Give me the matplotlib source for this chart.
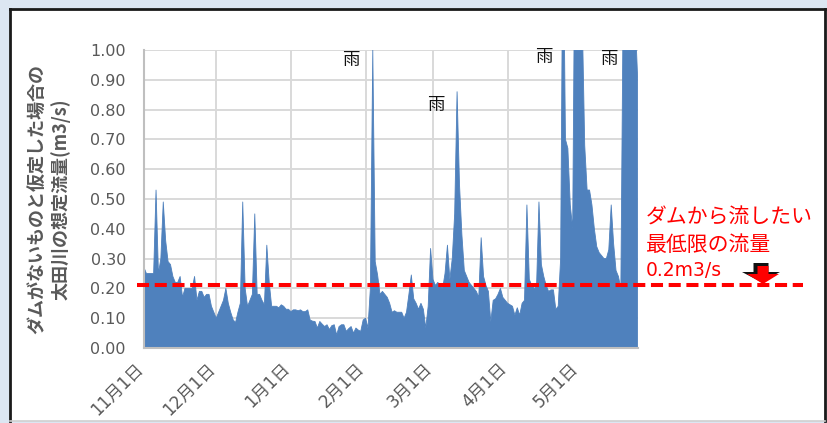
import matplotlib
matplotlib.use("Agg")
import matplotlib.pyplot as plt
import matplotlib.transforms as mtransforms
from matplotlib.patches import Rectangle, Polygon
from matplotlib.lines import Line2D
import pandas as pd

plt.rcParams['font.family'] = ['DejaVu Sans', 'Noto Sans CJK JP']

# ---------------- data (daily assumed flow, m3/s) ----------------
start_date = '2018-11-01'
nov = [0.27, 0.25, 0.25, 0.25, 0.25, 0.53, 0.25, 0.30, 0.49, 0.36,
       0.29, 0.28, 0.24, 0.22, 0.22, 0.24, 0.17, 0.20, 0.20, 0.20,
       0.20, 0.24, 0.16, 0.19, 0.19, 0.17, 0.18, 0.18, 0.14, 0.12]
dec = [0.10, 0.12, 0.14, 0.16, 0.20, 0.15, 0.12, 0.095, 0.085, 0.12,
       0.15, 0.49, 0.20, 0.14, 0.16, 0.18, 0.45, 0.18, 0.18, 0.16,
       0.145, 0.345, 0.22, 0.14, 0.14, 0.14, 0.135, 0.145, 0.14, 0.13,
       0.13]
jan = [0.122, 0.128, 0.128, 0.125, 0.128, 0.122, 0.122, 0.128, 0.094, 0.09,
       0.089, 0.067, 0.089, 0.08, 0.072, 0.078, 0.062, 0.075, 0.078, 0.044,
       0.072, 0.078, 0.078, 0.056, 0.065, 0.072, 0.05, 0.067, 0.06, 0.056,
       0.094]
feb = [0.10, 0.067, 0.20, 1.0, 0.29, 0.245, 0.18, 0.19, 0.18, 0.17,
       0.15, 0.12, 0.125, 0.12, 0.12, 0.12, 0.10, 0.12, 0.18, 0.245,
       0.165, 0.15, 0.13, 0.15, 0.13, 0.067, 0.14, 0.334]
mar = [0.23, 0.21, 0.22, 0.21, 0.20, 0.25, 0.345, 0.23, 0.30, 0.45,
       0.86, 0.55, 0.38, 0.26, 0.24, 0.22, 0.21, 0.20, 0.19, 0.17,
       0.37, 0.24, 0.21, 0.19, 0.088, 0.16, 0.165, 0.18, 0.20, 0.17,
       0.16]
apr = [0.15, 0.145, 0.14, 0.11, 0.135, 0.11, 0.15, 0.16, 0.48, 0.23,
       0.21, 0.20, 0.205, 0.49, 0.28, 0.24, 0.21, 0.19, 0.195, 0.195,
       0.13, 0.14, 0.30, 1.5, 0.70, 0.67, 0.48, 0.40, 1.5, 1.5]
may = [1.5, 1.1, 0.68, 0.53, 0.53, 0.48, 0.40, 0.34, 0.32, 0.31,
       0.30, 0.30, 0.33, 0.48, 0.35, 0.26, 0.24, 0.20, 1.2, 1.6,
       1.6, 1.6, 1.6, 1.1, 0.9]

month_ticks = ['2018-11-01', '2018-12-01', '2019-01-01', '2019-02-01',
               '2019-03-01', '2019-04-01', '2019-05-01']
month_labels = ['11月1日', '12月1日', '1月1日', '2月1日', '3月1日', '4月1日', '5月1日']
y_ticks = [0.0, 0.1, 0.2, 0.3, 0.4, 0.5, 0.6, 0.7, 0.8, 0.9, 1.0]

threshold = 0.21
rain_dates = ['2019-01-26', '2019-03-02', '2019-04-16', '2019-05-13']
rain_y = [0.965, 0.815, 0.975, 0.97]

ylabel_text = 'ダムがないものと仮定した場合の\n太田川の想定流量(m3/s)'
note_lines = ['ダムから流したい', '最低限の流量', '0.2m3/s']

flow = nov + dec + jan + feb + mar + apr + may
dates = pd.date_range(start_date, periods=len(flow), freq='D')

# ---------------- figure ----------------
W, H = 828, 423
fig = plt.figure(figsize=(W / 100, H / 100), dpi=100)
fig.patch.set_facecolor('#dce6f2')


def fx(x):
    return x / W


def fy(y):
    return 1 - y / H


panel = Rectangle((fx(10), fy(421)), fx(825) - fx(10), fy(9) - fy(421),
                  transform=fig.transFigure, facecolor='white',
                  edgecolor='none', zorder=-10)
fig.add_artist(panel)
for xs, ys, c, lw in [([10, 10], [421, 9], '#1a1a1a', 2.0),
                      ([10, 825], [9, 9], '#1a1a1a', 2.0),
                      ([825, 825], [9, 421], '#1a1a1a', 2.0),
                      ([10, 825], [421, 421], '#d0d0d0', 1.2)]:
    fig.add_artist(Line2D([fx(v) for v in xs], [fy(v) for v in ys],
                          transform=fig.transFigure, color=c, lw=lw,
                          zorder=-9))

ax = fig.add_axes([fx(144), fy(348), fx(637.7) - fx(144), fy(50) - fy(348)])
ax.set_facecolor('white')

ax.fill_between(dates, flow, 0, color='#4f81bd', edgecolor='#4f81bd',
                lw=0.6, zorder=3)

ax.set_xlim(dates[0], dates[-1])
ax.set_ylim(0, 1.0)

ax.set_yticks(y_ticks)
ax.set_yticklabels(['%.2f' % v for v in y_ticks])
ax.set_xticks(pd.to_datetime(month_ticks))
ax.set_xticklabels(month_labels)

ax.set_axisbelow(True)
ax.grid(True, color='#d9d9d9', lw=1.4)

for s in ['top', 'right']:
    ax.spines[s].set_visible(False)
for s in ['left', 'bottom']:
    ax.spines[s].set_color('#bfbfbf')
    ax.spines[s].set_linewidth(1.5)
    ax.spines[s].set_zorder(4)

ax.tick_params(axis='both', length=0, colors='#595959')
ax.tick_params(axis='y', pad=13, labelsize=11.5)
ax.tick_params(axis='x', pad=13, labelsize=12.2)
offset = mtransforms.ScaledTranslation(-4 / 100, 0, fig.dpi_scale_trans)
for lab in ax.get_xticklabels():
    lab.set_rotation(45)
    lab.set_ha('right')
    lab.set_va('center')
    lab.set_rotation_mode('anchor')
    lab.set_transform(lab.get_transform() + offset)

# y label
fig.text(fx(49), fy(199), ylabel_text, rotation=90, ha='center', va='center',
         multialignment='center', fontsize=13, color='#595959',
         fontweight='bold', linespacing=1.25,
         family=['Noto Sans CJK JP', 'DejaVu Sans'])

# threshold dashed line extending past the plot
trans = mtransforms.blended_transform_factory(ax.transAxes, ax.transData)
ax.plot([-0.014, 1.334], [threshold, threshold], color='#ff0000', lw=2.9,
        dashes=(3.0, 1.4), transform=trans, clip_on=False, zorder=6)

# rain labels
for d, yv in zip(rain_dates, rain_y):
    ax.text(pd.Timestamp(d), yv, '雨', ha='center', va='center', fontsize=12.5,
            color='#111111', family=['Noto Sans CJK JP'], zorder=7,
            clip_on=False)

# note text (three lines)
for txt, yc, fs in zip(note_lines, [218, 245, 270], [15, 15, 13.5]):
    fig.text(fx(646), fy(yc), txt, ha='left', va='center', fontsize=fs,
             color='#ff0000',
             family=['Noto Sans CJK JP', 'DejaVu Sans'] if fs == 15 else ['DejaVu Sans'])


# down arrow (shadow + red)
def arrow_pts(cx, top, shaft_w, head_w, head_y, tip_y):
    return [(fx(cx - shaft_w / 2), fy(top)), (fx(cx + shaft_w / 2), fy(top)),
            (fx(cx + shaft_w / 2), fy(head_y)), (fx(cx + head_w / 2), fy(head_y)),
            (fx(cx), fy(tip_y)), (fx(cx - head_w / 2), fy(head_y)),
            (fx(cx - shaft_w / 2), fy(head_y))]


fig.add_artist(Polygon(arrow_pts(761, 263, 15, 38, 272, 282),
                       closed=True, transform=fig.transFigure,
                       facecolor='#111111', edgecolor='none', zorder=8))
fig.add_artist(Polygon(arrow_pts(763, 266, 11, 32, 274, 284),
                       closed=True, transform=fig.transFigure,
                       facecolor='#ff0000', edgecolor='none', zorder=9))

fig.savefig('out.png', dpi=100, facecolor=fig.get_facecolor())
